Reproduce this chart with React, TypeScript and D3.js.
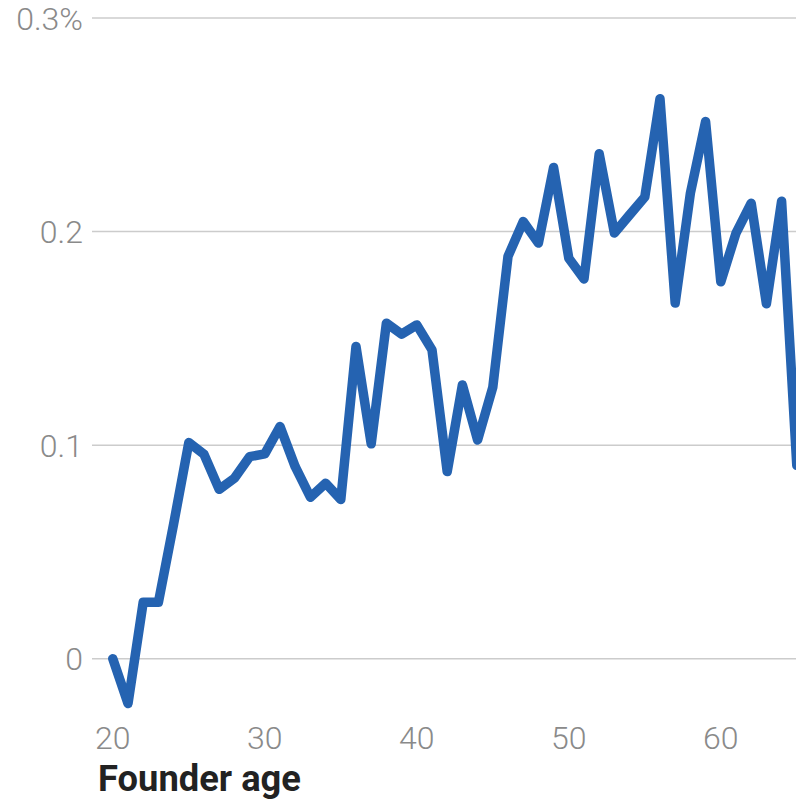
import React from "react";
import * as d3 from "d3";

const ages = [20,21,22,23,24,25,26,27,28,29,30,31,32,33,34,35,36,37,38,39,40,41,42,43,44,45,46,47,48,49,50,51,52,53,54,55,56,57,58,59,60,61,62,63,64,65];
const values = [0.000,-0.021,0.0264,0.0264,0.063,0.1012,0.0957,0.0793,0.0845,0.0946,0.0959,0.1087,0.0899,0.0756,0.0822,0.0745,0.1462,0.1006,0.1571,0.152,0.1563,0.1446,0.0876,0.1282,0.1024,0.1271,0.1884,0.2047,0.1946,0.2300,0.1875,0.1778,0.2364,0.1993,0.2078,0.2162,0.2622,0.1665,0.218,0.2515,0.1765,0.1993,0.2133,0.1662,0.2142,0.0905];
const yTicks = [0, 0.1, 0.2, 0.3];
const yTickLabels = ["0", "0.1", "0.2", "0.3%"];
const xTicks = [20, 30, 40, 50, 60];
const xTickLabels = ["20", "30", "40", "50", "60"];
const axisTitle = "Founder age";

export default function App() {
  const W = 796, H = 801;
  const x = d3.scaleLinear().domain([20, 65]).range([112.8, 796.8]);
  const y = d3.scaleLinear().domain([0, 0.3]).range([658.7, 18]);
  const data = ages.map((a, i) => ({ a, v: values[i] }));
  const line = d3.line<{ a: number; v: number }>().x(d => x(d.a)).y(d => y(d.v));
  return (
    <svg width={W} height={H} style={{ position: "absolute", left: 0, top: 0, background: "#fff" }}>
      <g>
        {yTicks.map((t, i) => (
          <g key={t}>
            <line x1={92} x2={W} y1={y(t)} y2={y(t)} stroke="#cccccc" strokeWidth={1.5} />
            <text x={83} y={y(t) + 11.5} textAnchor="end" fontFamily="Roboto" fontWeight={300} fontSize={32} fill="#8a8a8a">{yTickLabels[i]}</text>
          </g>
        ))}
      </g>
      <g>
        {xTicks.map((t, i) => (
          <text key={t} x={x(t)} y={749} textAnchor="middle" fontFamily="Roboto" fontWeight={300} fontSize={32} fill="#8a8a8a">{xTickLabels[i]}</text>
        ))}
      </g>
      <path d={line(data) || ""} fill="none" stroke="#2563B1" strokeWidth={9.5} strokeLinejoin="round" strokeLinecap="round" />
      <text x={98} y={791} fontFamily="Roboto" fontWeight={700} fontSize={37} fill="#222" textLength={203} lengthAdjust="spacingAndGlyphs">{axisTitle}</text>
    </svg>
  );
}
